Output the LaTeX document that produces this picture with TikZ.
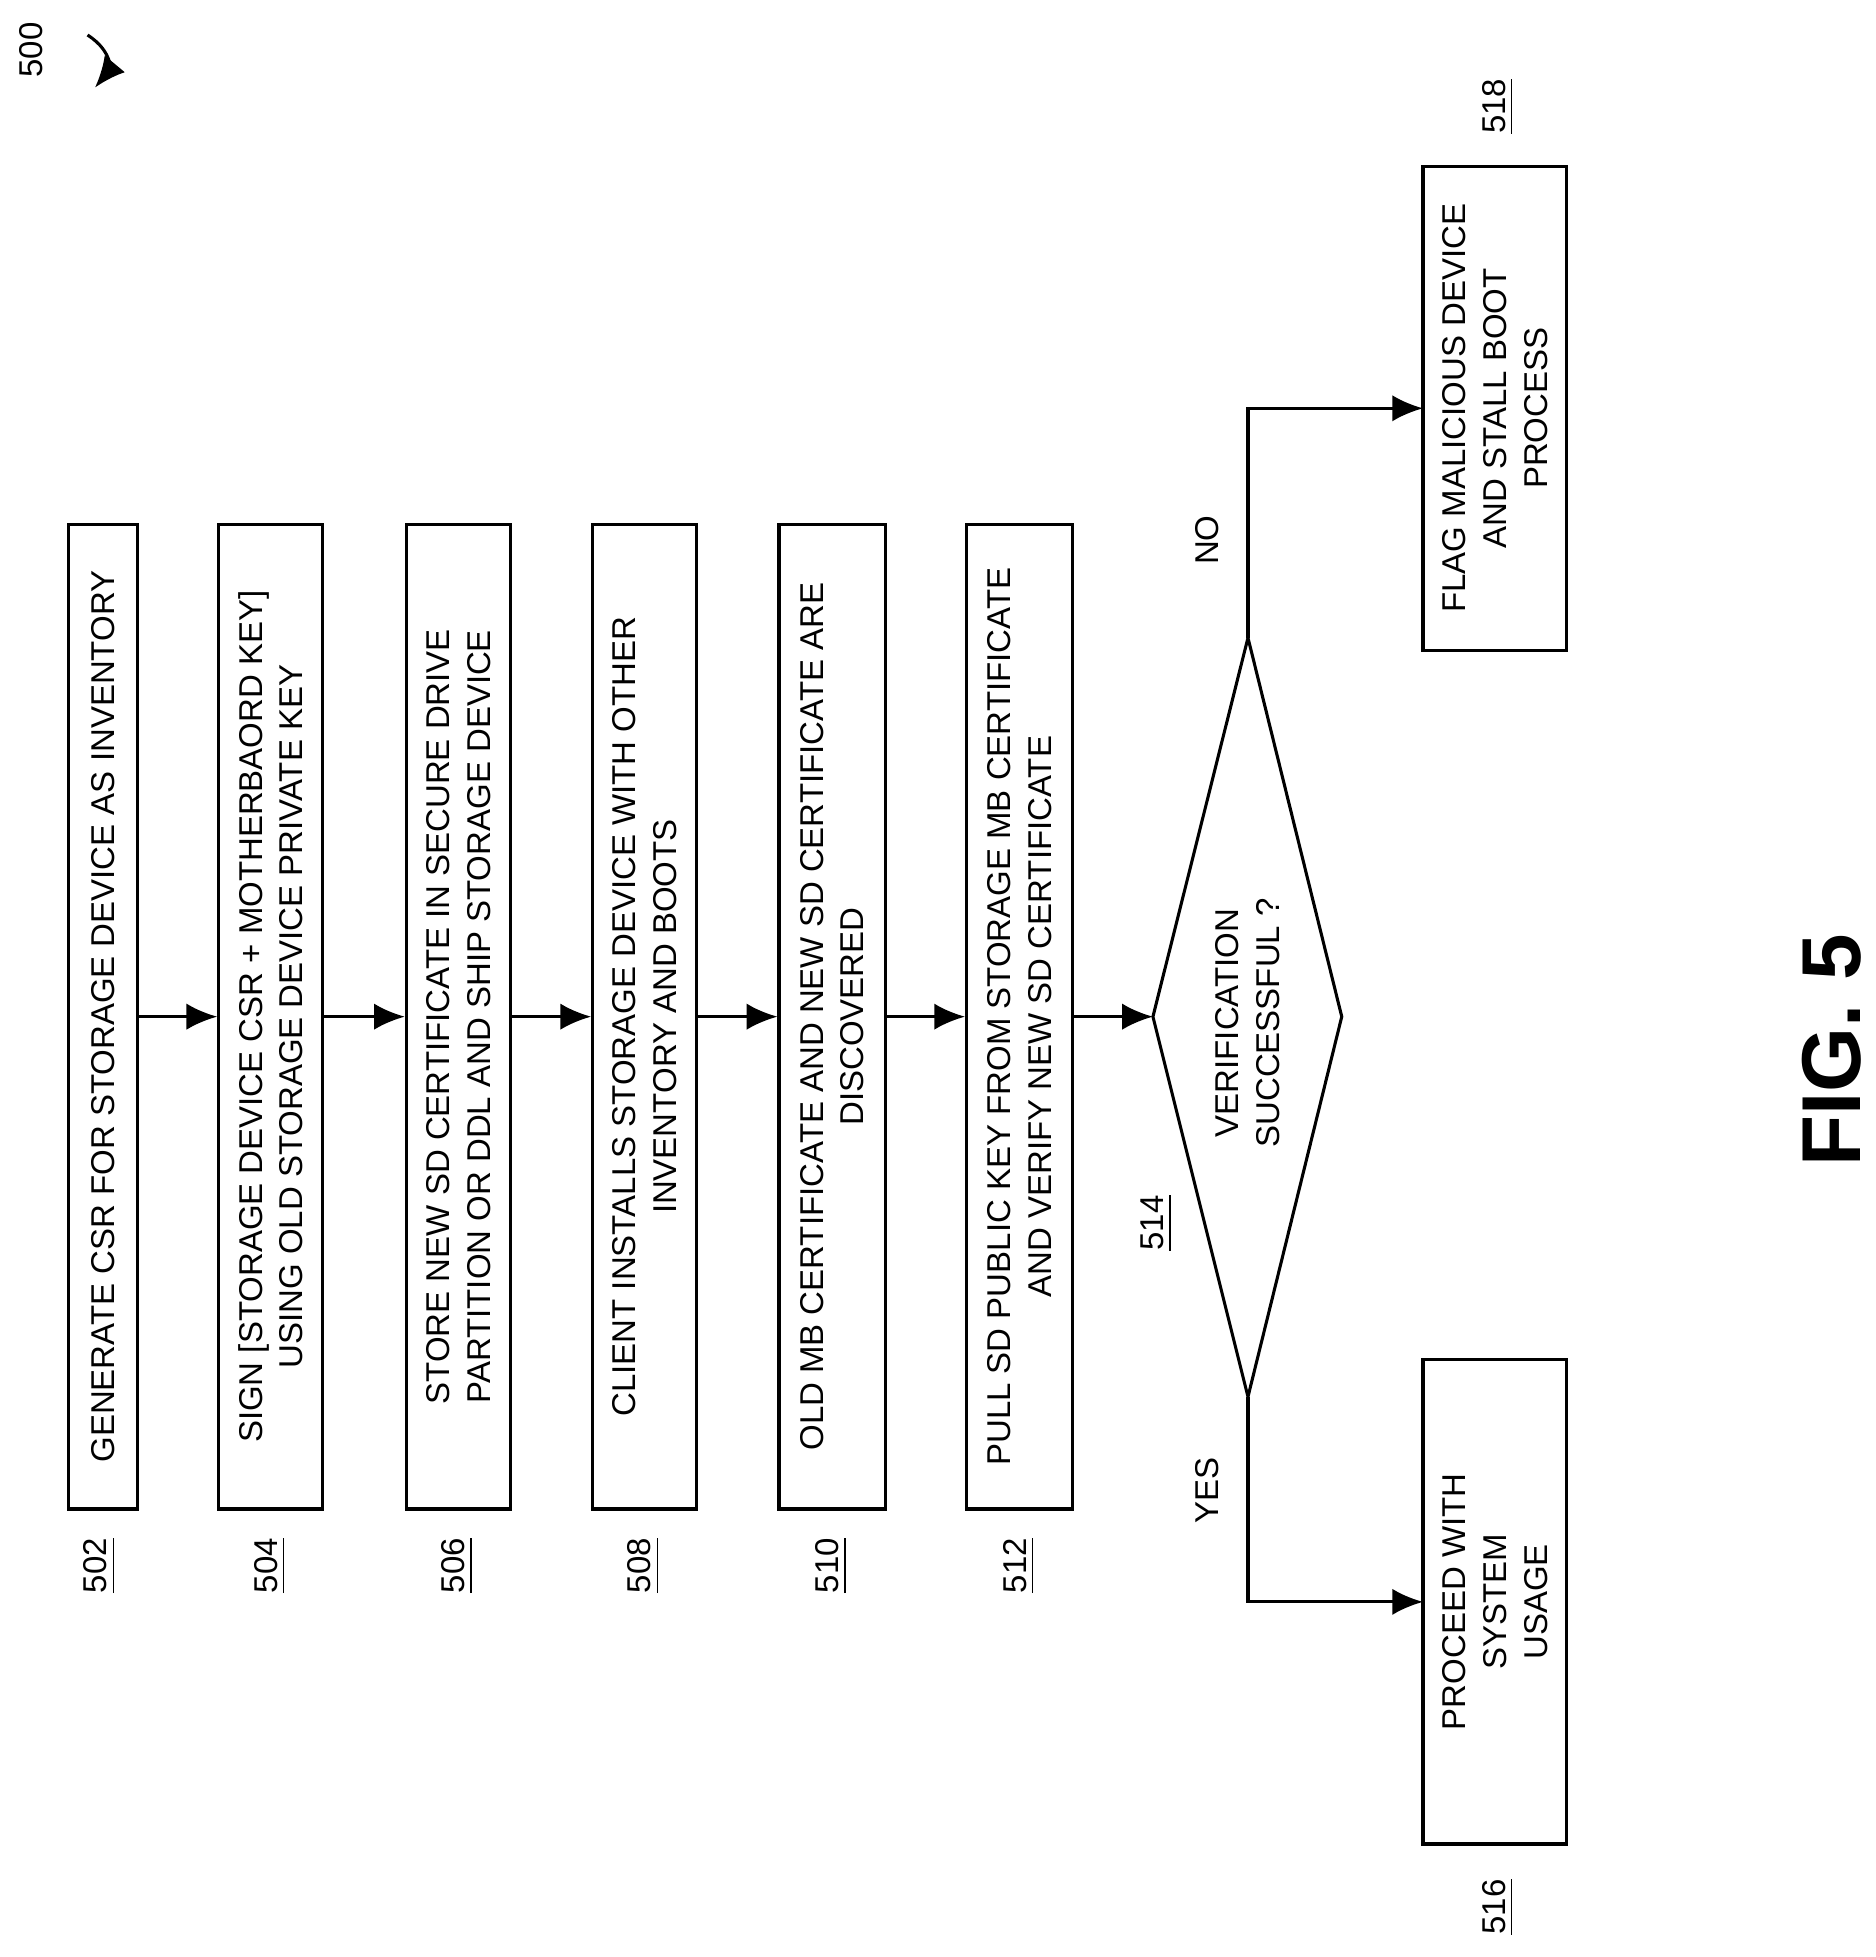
\documentclass[tikz,border=0pt]{standalone}
\usepackage{fontspec}
\setmainfont{Liberation Sans}
\usetikzlibrary{arrows.meta}

\tikzset{
  procbox/.style={draw, line width=0.7pt, rotate=90, minimum width=7.87cm, align=center,
    inner sep=1pt, font=\fontsize{7.5}{9.3}\selectfont},
  endbox/.style={procbox, minimum width=3.87cm, minimum height=1.15cm},
  ref/.style={rotate=90, font=\fontsize{7.5}{9.3}\selectfont},
  flow/.style={line width=0.7pt, -{Latex[length=7pt,width=6pt]}}
}

\begin{document}
\begin{tikzpicture}[x=0.01cm,y=-0.01cm]
\useasboundingbox (0,0) rectangle (1500,1565);

% steps
\node[procbox, minimum height=0.55cm] (b502) at (82.5,813) {GENERATE CSR FOR STORAGE DEVICE AS INVENTORY};
\node[procbox, minimum height=0.83cm] (b504) at (216.5,813) {SIGN [STORAGE DEVICE CSR + MOTHERBAORD KEY]\\USING OLD STORAGE DEVICE PRIVATE KEY};
\node[procbox, minimum height=0.83cm] (b506) at (366.5,813) {STORE NEW SD CERTIFICATE IN SECURE DRIVE\\PARTITION OR DDL AND SHIP STORAGE DEVICE};
\node[procbox, minimum height=0.83cm] (b508) at (515.5,813) {CLIENT INSTALLS STORAGE DEVICE WITH OTHER\\INVENTORY AND BOOTS};
\node[procbox, minimum height=0.85cm] (b510) at (665.5,813) {OLD MB CERTIFICATE AND NEW SD CERTIFICATE ARE\\DISCOVERED};
\node[procbox, minimum height=0.85cm] (b512) at (815.5,813) {PULL SD PUBLIC KEY FROM STORAGE MB CERTIFICATE\\AND VERIFY NEW SD CERTIFICATE};

% decision
\coordinate (dl) at (922,813);
\coordinate (dt) at (998,510);
\coordinate (dr) at (1073,813);
\coordinate (db) at (998,1117);
\draw[line width=0.7pt] (dl) -- (dt) -- (dr) -- (db) -- cycle;
\node[ref, align=center] (d514) at (998,818) {VERIFICATION\\SUCCESSFUL ?};

\node[endbox] (b518) at (1195.5,326.5) {FLAG MALICIOUS DEVICE\\AND STALL BOOT\\PROCESS};
\node[endbox] (b516) at (1195.5,1281) {PROCEED WITH\\SYSTEM\\USAGE};
\coordinate (in518) at (1138,326.5);
\coordinate (in516) at (1138,1281);

% labels
\node[ref] (l502) at (80,1252) {\underline{502}};
\node[ref] (l504) at (216,1252) {\underline{504}};
\node[ref] (l506) at (366,1252) {\underline{506}};
\node[ref] (l508) at (515,1252) {\underline{508}};
\node[ref] (l510) at (665,1252) {\underline{510}};
\node[ref] (l512) at (815,1252) {\underline{512}};
\node[ref] (l514) at (925,978) {\underline{514}};
\node[ref] (l516) at (1198,1525) {\underline{516}};
\node[ref] (l518) at (1198,85) {\underline{518}};
\node[ref] (l500) at (25,40) {500};
\node[ref] (tno) at (965,432) {NO};
\node[ref] (tyes) at (965,1192) {YES};
\node[rotate=90, font=\fontsize{19}{21}\selectfont\bfseries] (fig) at (1465,840) {FIG. 5};

% connectors
\draw[flow] (b502) -- (b504);
\draw[flow] (b504) -- (b506);
\draw[flow] (b506) -- (b508);
\draw[flow] (b508) -- (b510);
\draw[flow] (b510) -- (b512);
\draw[flow] (b512) -- (dl);
\draw[flow] (dt) |- (in518);
\draw[flow] (db) |- (in516);
\coordinate (a500) at (70,28);
\coordinate (h500) at (76,70);
\draw[flow] (a500) .. controls (92,42) and (86,58) .. (h500);
\end{tikzpicture}
\end{document}
